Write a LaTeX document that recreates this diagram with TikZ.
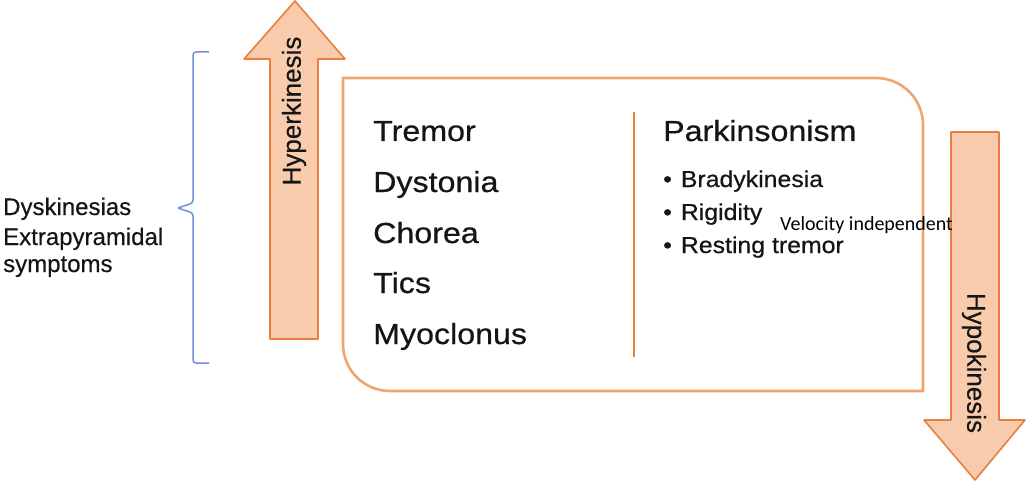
\documentclass[tikz,border=0pt]{standalone}
\usepackage{fontspec}
\setmainfont{Liberation Sans}
\newfontfamily\widesans[FakeStretch=1.11,FakeBold=0.6]{Liberation Sans}
\newfontfamily\midsans[FakeStretch=1.08,FakeBold=0.6]{Liberation Sans}
\newfontfamily\sidesans[FakeBold=0.4]{Liberation Sans}
\newfontfamily\carlito{Carlito}
\definecolor{arrowfill}{HTML}{F8CBAD}
\definecolor{arrowline}{HTML}{E97F3F}
\definecolor{boxline}{HTML}{F0A46E}
\definecolor{bracecol}{HTML}{6E8FD9}
\definecolor{txt}{HTML}{151515}
\tikzset{
  bigarrow/.style={fill=arrowfill, draw=arrowline, line width=1.6pt, line join=round},
  frame/.style={draw=boxline, line width=2.6pt},
  divider/.style={draw=arrowline, line width=1.5pt},
  brace/.style={draw=bracecol, line width=1.5pt, rounded corners=3pt},
  item/.style={anchor=base west, inner sep=0pt, text=txt, font=\widesans\fontsize{29}{34}\selectfont},
  bullet/.style={anchor=base west, inner sep=0pt, text=txt, font=\midsans\fontsize{23}{28}\selectfont},
  side/.style={anchor=base west, inner sep=0pt, text=txt, font=\sidesans\fontsize{24}{28}\selectfont},
  vlabel/.style={inner sep=0pt, text=txt, font=\sidesans\fontsize{26}{30}\selectfont},
  note/.style={anchor=base west, inner sep=0pt, text=black, font=\carlito\fontsize{20}{24}\selectfont}
}
\begin{document}
\begin{tikzpicture}[x=1pt,y=-1pt]
\useasboundingbox (0,0) rectangle (1028,492);
% up arrow
\draw[bigarrow] (270,339) -- (270,59) -- (244,59) -- (295,1) -- (345,59) -- (318,59) -- (318,339) -- cycle;
\node[vlabel, rotate=90] (hyper) at (294,111) {Hyperkinesis};
% down arrow
\draw[bigarrow] (951,132) -- (999,132) -- (999,420) -- (1025,420) -- (975,480) -- (924,420) -- (951,420) -- cycle;
\node[vlabel, rotate=-90] (hypo) at (974,363) {Hypokinesis};
% main frame
\draw[frame] (343,78) -- (876,78) .. controls (902,78) and (923,99) .. (923,125) -- (923,391) -- (390,391) .. controls (364,391) and (343,370) .. (343,344) -- cycle;
\coordinate (dtop) at (634,112);
\coordinate (dbot) at (634,357);
\draw[divider] (dtop) -- (dbot);
% left column
\node[item] (tremor) at (373,141) {Tremor};
\node[item] (dystonia) at (373,192) {Dystonia};
\node[item] (chorea) at (373,243) {Chorea};
\node[item] (tics) at (373,293) {Tics};
\node[item] (myoclonus) at (373,344) {Myoclonus};
% right column
\node[item] (parkinsonism) at (663,141) {Parkinsonism};
\node[bullet] (brady) at (663,187) {\textbullet\hspace{9pt}Bradykinesia};
\node[bullet] (rigid) at (663,220) {\textbullet\hspace{9pt}Rigidity};
\node[bullet] (rest) at (663,253) {\textbullet\hspace{9pt}Resting tremor};
\node[note] (velocity) at (780,230) {Velocity independent};
% side label
\node[side] (dysk) at (3,215) {Dyskinesias};
\node[side] (extra) at (3,245) {Extrapyramidal};
\node[side] (sympt) at (3,272) {symptoms};
% brace
\coordinate (btop) at (209,52);
\coordinate (bbot) at (209,363);
\coordinate (btip) at (178,208);
\draw[brace] (btop) -- (193,52) -- (193,203) -- (btip);
\draw[brace] (btip) -- (193,213) -- (193,363) -- (bbot);
\end{tikzpicture}
\end{document}
